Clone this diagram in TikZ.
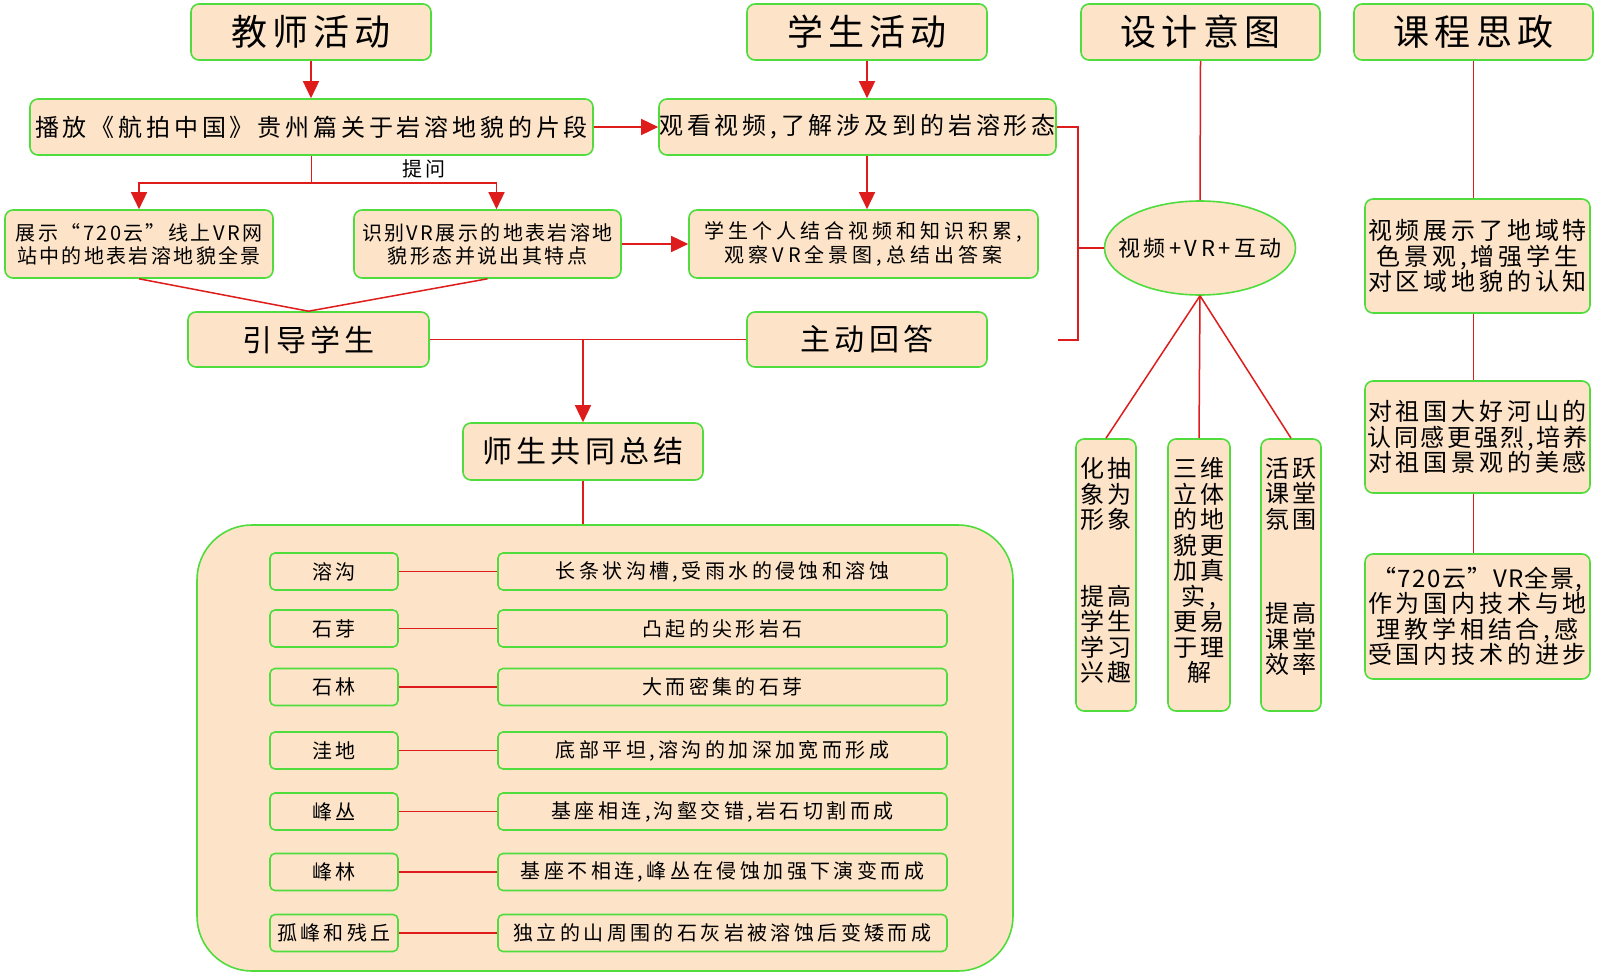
\documentclass[tikz,border=0pt]{standalone}
\usepackage{fontspec}
\setmainfont{Noto Sans CJK SC}
\newfontfamily\fTitle[LetterSpace=14]{Noto Sans CJK SC}
\newfontfamily\fMid[LetterSpace=16]{Noto Sans CJK SC}
\newfontfamily\fSmall[LetterSpace=12]{Noto Sans CJK SC}
\newfontfamily\fComb[LetterSpace=20]{Noto Sans CJK SC}
\newfontfamily\fBot[LetterSpace=17]{Noto Sans CJK SC}
\usetikzlibrary{arrows.meta,shapes.geometric}
\definecolor{bgreen}{RGB}{80,220,60}
\definecolor{peach}{RGB}{253,228,201}
\definecolor{lred}{RGB}{222,28,28}
\tikzset{
  box/.style={draw=bgreen, fill=peach, line width=1.6pt, rounded corners=8pt, inner sep=0pt, align=center},
  titlebox/.style={box, minimum width=240pt, minimum height=56pt, font=\fTitle\fontsize{36}{40}\selectfont},
  subbox/.style={box, minimum width=241pt, minimum height=55pt, font=\fTitle\fontsize{30}{34}\selectfont},
  midbox/.style={box, minimum height=56pt, font=\fMid\fontsize{24}{26}\selectfont},
  smallbox/.style={box, minimum height=68pt, font=\fSmall\fontsize{20}{23}\selectfont},
  leftbox/.style={box, minimum width=128pt, minimum height=37pt, rounded corners=5pt, font=\fBot\fontsize{20}{22}\selectfont},
  rightbox/.style={box, minimum width=449pt, minimum height=37pt, rounded corners=5pt, font=\fBot\fontsize{20}{22}\selectfont},
  colbox/.style={box, minimum width=60pt, minimum height=272pt},
  coltext/.style={inner sep=0pt, align=center, anchor=north, font=\fMid\fontsize{24}{25.5}\selectfont},
  sidebox/.style={box, minimum width=225pt, font=\fMid\fontsize{24}{25.5}\selectfont},
  conn/.style={draw=lred, line width=1.5pt},
  arr/.style={conn, -{Triangle[length=17pt,width=16pt]}}
}
\begin{document}
\begin{tikzpicture}[x=1pt,y=-1pt]
\useasboundingbox[fill=white] (0,0) rectangle (1600,976);

% headers
\node[titlebox] (teach) at (311,32) {教师活动};
\node[titlebox] (stud) at (867,32) {学生活动};
\node[titlebox, minimum width=239pt] (design) at (1200.5,32) {设计意图};
\node[titlebox, minimum width=239pt] (szz) at (1473.5,32) {课程思政};

% second row
\node[midbox, minimum width=563pt] (play) at (311.5,127) {播放《航拍中国》贵州篇关于岩溶地貌的片段};
\node[midbox, minimum width=397pt] (watch) at (857.5,127) {观看视频,了解涉及到的岩溶形态};

% third row
\node[smallbox, minimum width=268pt] (show) at (139,244) {展示“720云”线上VR网\\站中的地表岩溶地貌全景};
\node[smallbox, minimum width=267pt] (ident) at (487.5,244) {识别VR展示的地表岩溶地\\貌形态并说出其特点};
\node[smallbox, minimum width=349pt, font=\fComb\fontsize{20}{24}\selectfont] (comb) at (863.5,244) {学生个人结合视频和知识积累,\\观察VR全景图,总结出答案};
\node[inner sep=0pt, font=\fSmall\fontsize{20}{22}\selectfont] (ask) at (424,169) {提问};

% fourth row
\node[subbox] (guide) at (308.5,339.5) {引导学生};
\node[subbox, minimum width=240pt] (answer) at (867,339.5) {主动回答};
\node[subbox, minimum width=240pt, minimum height=57pt] (summ) at (583,451.5) {师生共同总结};

% big box
\node[box, rounded corners=55pt, minimum width=816pt, minimum height=446pt] (big) at (605,748) {};

\node[leftbox] (l1) at (334,571.5) {溶沟};
\node[leftbox] (l2) at (334,628.5) {石芽};
\node[leftbox] (l3) at (334,687) {石林};
\node[leftbox] (l4) at (334,750.5) {洼地};
\node[leftbox] (l5) at (334,811.5) {峰丛};
\node[leftbox] (l6) at (334,872) {峰林};
\node[leftbox] (l7) at (334,933) {孤峰和残丘};

\node[rightbox] (d1) at (722.5,571.5) {长条状沟槽,受雨水的侵蚀和溶蚀};
\node[rightbox] (d2) at (722.5,628.5) {凸起的尖形岩石};
\node[rightbox] (d3) at (722.5,687) {大而密集的石芽};
\node[rightbox] (d4) at (722.5,750.5) {底部平坦,溶沟的加深加宽而形成};
\node[rightbox] (d5) at (722.5,811.5) {基座相连,沟壑交错,岩石切割而成};
\node[rightbox] (d6) at (722.5,872) {基座不相连,峰丛在侵蚀加强下演变而成};
\node[rightbox] (d7) at (722.5,933) {独立的山周围的石灰岩被溶蚀后变矮而成};

\foreach \i in {1,...,7} {\draw[conn] (l\i.east) -- (d\i.west);}

% design column
\node[ellipse, draw=bgreen, fill=peach, line width=1.6pt, minimum width=191pt, minimum height=94pt, inner sep=0pt] (ell) at (1200,248) {};
\node[inner sep=0pt, font=\fMid\fontsize{22}{24}\selectfont] (ellt) at (ell.center) {视频+VR+互动};

\node[colbox] (c1) at (1106,575) {};
\node[colbox, minimum width=62pt] (c2) at (1199,575) {};
\node[colbox] (c3) at (1291,575) {};
\node[coltext] (t1) at ([yshift=-19pt]c1.north) {化抽\\象为\\形象\\[51pt]提高\\学生\\学习\\兴趣};
\node[coltext] (t2) at ([yshift=-19pt]c2.north) {三维\\立体\\的地\\貌更\\加真\\实,\\更易\\于理\\解};
\node[coltext] (t3) at ([yshift=-19pt]c3.north) {活跃\\课堂\\氛围\\[69pt]提高\\课堂\\效率};

% sizheng column
\node[sidebox, minimum height=114pt] (r1) at (1477.5,256) {视频展示了地域特\\色景观,增强学生\\对区域地貌的认知};
\node[sidebox, minimum height=112pt] (r2) at (1477.5,437) {对祖国大好河山的\\{\addfontfeature{LetterSpace=11}认同感更强烈,培养}\\对祖国景观的美感};
\node[sidebox, minimum height=125pt] (r3) at (1477.5,616.5) {{\addfontfeature{LetterSpace=6}“720云”VR全景,}\\作为国内技术与地\\理教学相结合,感\\受国内技术的进步};

% connectors
\draw[arr] (teach.south) -- (teach.south |- play.north);
\draw[arr] (stud.south) -- (stud.south |- watch.north);
\draw[arr] (play.east) -- (watch.west);
\draw[conn] (play.south) -- ++(0,27) coordinate (q);
\draw[arr] (q) -| (show.north);
\draw[arr] (q) -| ([xshift=9pt]ident.north);
\draw[arr] (stud.south |- watch.south) -- (stud.south |- comb.north);
\draw[arr] (ident.east) -- (comb.west);
\draw[conn] (show.south) -- (guide.north) -- (ident.south);
\draw[conn] (guide.east) -- (answer.west);
\draw[arr] (guide.east -| summ.north) -- (summ.north);
\draw[conn] (summ.south) -- (summ.south |- big.north);

\coordinate (brk) at (1078,340);
\coordinate (fe) at (1058,340);
\draw[conn] (watch.east) -| (brk) -- (fe);
\draw[conn] (ell.west) -- (ell.west -| brk);
\draw[conn] (design.south) -- (ell.north);
\draw[conn] (ell.south) -- (c1.north);
\draw[conn] (ell.south) -- (c2.north);
\draw[conn] (ell.south) -- (c3.north);

\draw[conn] (szz.south) -- (szz.south |- r1.north);
\draw[conn] (szz.south |- r1.south) -- (szz.south |- r2.north);
\draw[conn] (szz.south |- r2.south) -- (szz.south |- r3.north);
\end{tikzpicture}
\end{document}
